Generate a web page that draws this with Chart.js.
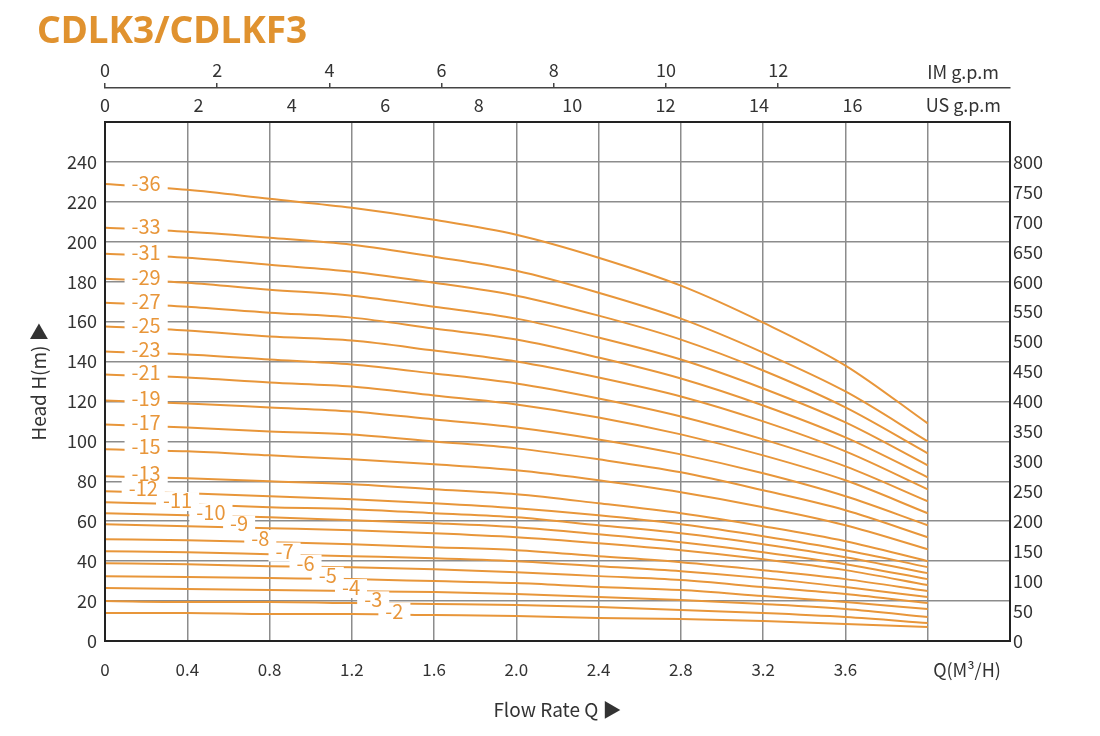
<!DOCTYPE html>
<html>
<head>
<meta charset="utf-8">
<script src="https://cdn.jsdelivr.net/npm/chart.js@4.4.1/dist/chart.umd.min.js"></script>
<style>
  html, body { margin: 0; padding: 0; background: #fff; }
  #wrap { width: 1100px; height: 736px; }
</style>
</head>
<body>
<div id="wrap"><canvas id="chart" width="1100" height="736"></canvas></div>
<script>
// flow rate points (m3/h) the curves were read at
const flowQ = [0, 0.4, 0.8, 1.2, 1.6, 2.0, 2.4, 2.8, 3.2, 3.6, 4.0];

// head (m) per stage count
const h36 = [229, 226, 221.5, 217, 211, 203.5, 192, 178, 159.5, 138, 109];
const h33 = [207, 205, 202, 198.5, 192.5, 185.5, 174.5, 161.5, 144.5, 125, 100];
const h31 = [194, 192, 188.5, 185, 179.5, 173, 163, 151, 135.5, 117, 94];
const h29 = [181.5, 179.5, 176, 173, 167.5, 161.5, 152, 141, 126.5, 109.5, 88];
const h27 = [169.5, 167.5, 164.5, 162, 156.5, 151, 142, 131.5, 118, 102, 82];
const h25 = [157.5, 155.5, 152.5, 150.5, 145.5, 140, 132, 122.5, 110, 95, 76];
const h23 = [145, 143.5, 141, 138.5, 134, 129, 121.5, 112.5, 101, 87.5, 70];
const h21 = [133.5, 132, 129.5, 127.5, 123, 118.5, 112, 103.5, 93, 80.5, 64];
const h19 = [120.5, 119, 117, 115, 111, 107, 101, 93.5, 84, 72.5, 58];
const h17 = [108.5, 107, 105, 103.5, 100, 96.5, 91, 84.5, 75.5, 65.5, 52];
const h15 = [96, 95, 93, 91, 88.5, 85.5, 80.5, 74.5, 67, 58, 46];
const h13 = [82.5, 81.5, 80, 78.5, 76, 73.5, 69, 64, 57.5, 50, 40];
const h12 = [75, 74, 72.5, 71, 69, 66.5, 63, 58.5, 52.5, 45.5, 37];
const h11 = [69.5, 68.5, 67, 66, 64, 62, 58, 54, 48.5, 42, 34];
const h10 = [64, 63, 62, 60.5, 59, 57, 53.5, 49.5, 44.5, 38.5, 31];
const h9 = [58.5, 57.5, 56.5, 55.5, 54, 52, 49, 45.5, 41, 35.5, 28];
const h8 = [51, 50.5, 49.5, 48.5, 47, 45.5, 42.5, 39.5, 35.5, 31, 25];
const h7 = [45, 44.5, 43.5, 42.5, 41.5, 40, 37.5, 35, 31.5, 27, 22];
const h6 = [39, 38.5, 37.5, 37, 36, 34.5, 32.5, 30.5, 27, 23.5, 19];
const h5 = [32.5, 32, 31.5, 31, 30, 29, 27, 25.5, 22.5, 19.5, 16];
const h4 = [26.5, 26, 25.5, 25, 24.5, 23.5, 22, 20.5, 18.5, 16, 12];
const h3 = [20, 19.5, 19.5, 19, 18.5, 18, 17, 15.5, 14, 12, 9];
const h2 = [14, 14, 13.5, 13.5, 13, 12.5, 11.5, 11, 10, 8.5, 7];

const curves = [
  [36, h36], [33, h33], [31, h31], [29, h29], [27, h27], [25, h25],
  [23, h23], [21, h21], [19, h19], [17, h17], [15, h15], [13, h13],
  [12, h12], [11, h11], [10, h10], [9, h9], [8, h8], [7, h7],
  [6, h6], [5, h5], [4, h4], [3, h3], [2, h2],
];

// where along Q each stage label sits (same order as curves)
const labelQ = [0.2, 0.2, 0.2, 0.2, 0.2, 0.2, 0.2, 0.2, 0.2, 0.2, 0.2, 0.2,
  0.186, 0.353, 0.515, 0.652, 0.755, 0.873, 0.975, 1.083, 1.196, 1.304, 1.407];

const Q_MAX = 4.4;
const H_MAX = 260;
const M3H_TO_USGPM = 4.40287;
const M3H_TO_IMGPM = 3.66615;
// right hand scale: 800 lines up with 240 m on the sheet
const RIGHT_PER_M = 800 / 240;

const ORANGE = '#E8963A';
const TEXT = '#333';
const GRID = '#8c8c8c';
const FONT = '"Noto Sans CJK SC", "Noto Sans", sans-serif';

function headAt(heads, q) {
  for (let i = 1; i < flowQ.length; i += 1) {
    if (q <= flowQ[i]) {
      const t = (q - flowQ[i - 1]) / (flowQ[i] - flowQ[i - 1]);
      return heads[i - 1] + t * (heads[i] - heads[i - 1]);
    }
  }
  return heads[heads.length - 1];
}

const fixedSize = (w, h) => (scale) => {
  if (w) scale.width = w;
  if (h) scale.height = h;
};
const keepTicks = (limit) => (scale) => {
  scale.ticks = scale.ticks.filter((t) => t.value <= limit + 1e-9);
};

const decorations = {
  id: 'decorations',
  afterDatasetsDraw(chart) {
    const { ctx, scales: { x, y } } = chart;
    ctx.save();
    ctx.font = `20px ${FONT}`;
    ctx.textAlign = 'center';
    ctx.textBaseline = 'alphabetic';
    const spots = curves.map(([stage, heads], i) => {
      const q = labelQ[i];
      const text = `-${stage}`;
      return {
        text,
        px: x.getPixelForValue(q),
        py: y.getPixelForValue(headAt(heads, q)),
        w: ctx.measureText(text).width,
      };
    });
    // white gaps first, then the numbers, so no box cuts a neighbour
    ctx.fillStyle = '#fff';
    spots.forEach((s) => ctx.fillRect(s.px - s.w / 2 - 7, s.py - 12, s.w + 14, 19));
    ctx.fillStyle = ORANGE;
    spots.forEach((s) => ctx.fillText(s.text, s.px, s.py + 4));
    ctx.restore();
  },
  afterDraw(chart) {
    const { ctx, chartArea: a } = chart;
    ctx.save();
    // plot frame
    ctx.strokeStyle = '#222';
    ctx.lineWidth = 2;
    ctx.strokeRect(a.left, a.top, a.right - a.left, a.bottom - a.top);

    ctx.fillStyle = '#E0922F';
    ctx.font = `bold 37px "Noto Sans", sans-serif`;
    ctx.textAlign = 'left';
    ctx.textBaseline = 'alphabetic';
    ctx.fillText('CDLK3/CDLKF3', 37, 43);

    ctx.fillStyle = TEXT;
    ctx.font = `18px ${FONT}`;
    ctx.textBaseline = 'middle';
    ctx.textAlign = 'right';
    ctx.fillText('IM g.p.m', 999, 72);
    ctx.fillText('US g.p.m', 1001, 105);
    ctx.textAlign = 'center';
    ctx.fillText('Q(M³/H)', 967, 670);
    ctx.restore();
  },
};

new Chart(document.getElementById('chart'), {
  type: 'line',
  data: {
    datasets: curves.map(([stage, heads]) => ({
      label: `-${stage}`,
      data: flowQ.map((q, i) => ({ x: q, y: heads[i] })),
      borderColor: ORANGE,
      borderWidth: 2,
      pointRadius: 0,
      cubicInterpolationMode: 'monotone',
      fill: false,
      xAxisID: 'x',
      yAxisID: 'y',
    })),
  },
  options: {
    responsive: false,
    animation: false,
    devicePixelRatio: 1,
    layout: { padding: { top: 50, left: 27, right: 0, bottom: 15 } },
    plugins: { legend: { display: false }, tooltip: { enabled: false } },
    scales: {
      x: {
        type: 'linear',
        position: 'bottom',
        min: 0,
        max: Q_MAX,
        afterFit: fixedSize(null, 736 - 15 - 641),
        border: { display: false },
        grid: { color: GRID, lineWidth: 1.5, drawTicks: false },
        ticks: {
          stepSize: 0.4,
          padding: 18,
          color: TEXT,
          font: { family: FONT, size: 17 },
          callback: (v) => (v > 3.7 ? '' : (v === 0 ? '0' : v.toFixed(1))),
        },
        title: {
          display: true,
          text: 'Flow Rate Q ▶',
          color: TEXT,
          font: { family: FONT, size: 19 },
          padding: 0,
        },
      },
      xUS: {
        type: 'linear',
        position: 'top',
        weight: 0,
        min: 0,
        max: Q_MAX * M3H_TO_USGPM,
        afterFit: fixedSize(null, 34),
        afterBuildTicks: keepTicks(16),
        border: { display: false },
        grid: { display: false, drawTicks: false },
        ticks: {
          stepSize: 2,
          padding: 6,
          color: TEXT,
          font: { family: FONT, size: 18 },
        },
      },
      xIM: {
        type: 'linear',
        position: 'top',
        weight: 1,
        min: 0,
        max: Q_MAX * M3H_TO_IMGPM,
        afterFit: fixedSize(null, 38),
        afterBuildTicks: keepTicks(12),
        border: { display: true, color: '#444', width: 1.5 },
        grid: { drawOnChartArea: false, drawTicks: true, tickLength: 5, color: '#444', lineWidth: 1.5 },
        ticks: {
          stepSize: 2,
          padding: 2,
          color: TEXT,
          font: { family: FONT, size: 18 },
        },
      },
      y: {
        type: 'linear',
        position: 'left',
        min: 0,
        max: H_MAX,
        afterFit: fixedSize(105 - 27, null),
        border: { display: false },
        grid: { color: GRID, lineWidth: 1.5, drawTicks: false },
        ticks: {
          stepSize: 20,
          padding: 8,
          color: TEXT,
          font: { family: FONT, size: 18 },
          callback: (v) => (v > 240 ? '' : v),
        },
        title: {
          display: true,
          text: 'Head H(m) ▶',
          color: TEXT,
          font: { family: FONT, size: 19 },
          padding: 0,
        },
      },
      yFt: {
        type: 'linear',
        position: 'right',
        min: 0,
        max: H_MAX * RIGHT_PER_M,
        afterFit: fixedSize(1100 - 1010, null),
        afterBuildTicks: keepTicks(800),
        border: { display: false },
        grid: { display: false, drawTicks: false },
        ticks: {
          stepSize: 50,
          padding: 3,
          color: TEXT,
          font: { family: FONT, size: 18 },
        },
      },
    },
  },
  plugins: [decorations],
});
</script>
</body>
</html>
